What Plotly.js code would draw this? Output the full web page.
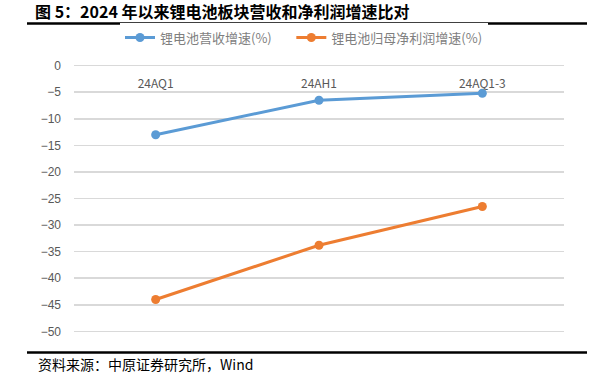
<!DOCTYPE html>
<html>
<head>
<meta charset="utf-8">
<script src="https://cdn.plot.ly/plotly-3.0.1.min.js"></script>
<style>
html,body{margin:0;padding:0;background:#fff;}
#chart{width:616px;height:373px;}
</style>
</head>
<body>
<div id="chart"></div>
<script>
const categories = ["24AQ1", "24AH1", "24AQ1-3"];
const revenueGrowth = [-13.0, -6.5, -5.2];
const profitGrowth = [-44.0, -33.8, -26.5];
const yTicks = [0, -5, -10, -15, -20, -25, -30, -35, -40, -45, -50];
const seriesNames = ["锂电池营收增速(%)", "锂电池归母净利润增速(%)"];
const titleText = "图 5：2024 年以来锂电池板块营收和净利润增速比对";
const sourceText = "资料来源：中原证券研究所，Wind";

const cjk = '"Noto Sans CJK SC", "Liberation Sans", sans-serif';
const gap = '\u00a0\u00a0\u00a0\u00a0\u00a0';
const traces = [
  {x: categories, y: revenueGrowth, name: seriesNames[0] + gap, type: 'scatter', mode: 'lines+markers',
   line: {color: '#5B9BD5', width: 3}, marker: {color: '#5B9BD5', size: 9}},
  {x: categories, y: profitGrowth, name: seriesNames[1], type: 'scatter', mode: 'lines+markers',
   line: {color: '#ED7D31', width: 3}, marker: {color: '#ED7D31', size: 9}}
];
const pxPerUnit = 5.3;
const pad = 0.5;
const L = 74, R = 564, T = 66 - pad * pxPerUnit, B = 331 + pad * pxPerUnit;
const px = v => (v - L) / (R - L);
const py = v => (B - v) / (B - T);
const layout = {
  width: 616, height: 373,
  margin: {l: L, r: 616 - R, t: T, b: 373 - B, pad: 0},
  paper_bgcolor: '#fff', plot_bgcolor: '#fff',
  showlegend: true,
  legend: {orientation: 'h', x: px(120), xanchor: 'left', y: py(38), yanchor: 'middle',
    font: {family: cjk, size: 13, color: '#7f7f7f'}, tracegroupgap: 0},
  title: {text: '<b>' + titleText + '</b>', x: 35 / 616, xanchor: 'left', xref: 'container',
    y: 1 - 12 / 373, yanchor: 'middle', yref: 'container',
    font: {family: cjk, size: 16, color: '#000'}},
  xaxis: {type: 'category', range: [-0.5, 2.5], side: 'bottom', anchor: 'free', position: py(75),
    showgrid: false, zeroline: false, showline: false, ticks: '',
    tickfont: {family: cjk, size: 12, color: '#595959'}, fixedrange: true},
  yaxis: {range: [-50 - pad, 0 + pad], tickvals: yTicks, showgrid: true, gridcolor: '#d9d9d9', gridwidth: 1.5,
    zeroline: false, showline: false, ticks: '', ticklabelstandoff: 12,
    tickfont: {family: '"Liberation Sans", Arial, sans-serif', size: 12, color: '#595959'}},
  shapes: [
    {type: 'line', xref: 'paper', yref: 'paper', x0: px(27), x1: px(587), y0: py(24), y1: py(24),
      line: {color: '#000', width: 2.5}},
    {type: 'line', xref: 'paper', yref: 'paper', x0: px(27), x1: px(587), y0: py(352), y1: py(352),
      line: {color: '#000', width: 2.5}}
  ],
  annotations: [
    {text: sourceText, xref: 'paper', yref: 'paper', x: px(36), xanchor: 'left', y: py(364), yanchor: 'middle',
      showarrow: false, font: {family: cjk, size: 14, color: '#000'}}
  ]
};
Plotly.newPlot('chart', traces, layout, {displayModeBar: false, staticPlot: true});
</script>
</body>
</html>
